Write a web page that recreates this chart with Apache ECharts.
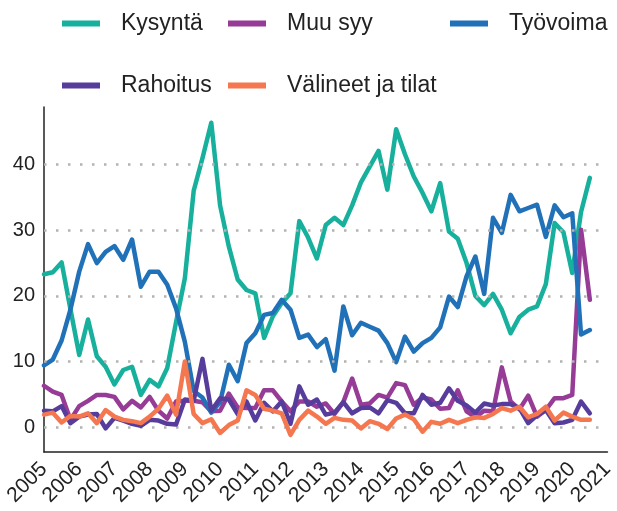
<!DOCTYPE html>
<html>
<head>
<meta charset="utf-8">
<script src="https://cdn.jsdelivr.net/npm/echarts@6/dist/echarts.min.js"></script>
<style>
html,body{margin:0;padding:0;background:#fff;}
#chart{width:617px;height:511px;}
</style>
</head>
<body>
<div id="chart"></div>
<script>
// Tick labels (years) — one category per quarter, 2005Q1 .. 2021Q1
const years = ['2005','2006','2007','2008','2009','2010','2011','2012','2013','2014','2015','2016','2017','2018','2019','2020','2021'];
const quarters = [];
years.forEach(y => { ['Q1','Q2','Q3','Q4'].forEach(q => quarters.push(y + ' ' + q)); });
quarters.length = 65; // ends at 2021 Q1

const seriesNames = ['Kysyntä', 'Muu syy', 'Työvoima', 'Rahoitus', 'Välineet ja tilat'];

const kysynta = [23.3,23.6,25.1,18.0,11.0,16.4,10.8,9.2,6.5,8.7,
  9.2,4.9,7.2,6.2,9.0,16.0,22.7,36.0,41.0,46.4,
  33.8,27.5,22.5,20.9,20.4,13.6,16.9,18.9,20.4,31.4,
  28.9,25.7,30.8,31.9,30.8,33.8,37.3,39.7,42.1,36.2,
  45.4,41.6,38.2,35.7,32.9,37.2,29.8,28.7,25.0,20.0,
  18.6,20.3,17.9,14.3,16.8,17.9,18.4,21.8,31.1,29.7,
  23.5,32.8,38.0];

const muuSyy = [6.3,5.4,4.9,1.1,3.2,4.0,4.9,4.9,4.6,2.7,
  4.0,3.0,4.6,2.5,1.3,3.9,4.0,4.0,3.8,2.4,
  2.5,5.1,3.0,2.9,2.9,5.6,5.6,3.9,2.4,3.9,
  3.9,3.1,3.6,2.0,3.8,7.4,3.4,3.6,4.9,4.5,
  6.7,6.4,3.4,4.5,4.2,2.8,2.9,5.6,2.4,1.5,
  2.5,2.4,9.1,3.9,2.7,4.8,1.6,2.6,4.4,4.4,
  4.9,30.1,19.4];

const tyovoima = [9.4,10.3,13.2,17.9,23.7,27.9,25.0,26.7,27.6,25.5,
  28.6,21.4,23.7,23.7,21.7,18.1,13.0,5.5,4.5,2.2,
  3.8,9.5,7.0,12.8,14.3,17.1,17.4,19.4,17.9,13.6,
  14.1,12.2,13.4,8.6,18.4,14.0,15.9,15.3,14.7,12.8,
  9.9,13.8,11.5,12.8,13.6,15.2,19.9,18.3,23.0,26.0,
  20.3,31.9,29.6,35.4,32.9,33.4,33.9,29.0,33.8,32.0,
  32.6,14.1,14.8];

const rahoitus = [2.5,2.4,3.2,0.6,1.6,1.9,2.0,-0.2,1.4,1.0,
  0.5,0.2,1.1,1.0,0.5,0.4,4.2,4.0,10.4,2.5,
  4.4,4.2,2.0,3.9,1.0,3.7,2.4,3.9,0.5,6.2,
  3.4,4.2,1.9,2.2,3.8,2.1,2.9,3.0,2.1,4.1,
  3.7,2.1,2.1,4.9,3.4,3.7,5.9,4.0,3.3,2.2,
  3.6,3.3,3.5,3.5,2.9,0.6,1.8,2.6,0.6,0.7,
  1.1,3.9,2.1];

const valineet = [1.9,2.2,0.7,1.7,1.6,2.1,0.6,2.6,1.6,1.1,
  0.9,0.6,1.6,2.8,4.8,1.9,10.0,2.0,0.6,1.2,
  -0.9,0.3,1.0,5.6,4.9,2.8,2.5,2.1,-1.2,1.1,
  2.5,1.6,0.5,1.4,1.1,1.0,-0.2,0.9,0.5,-0.3,
  1.3,1.9,1.2,-0.7,0.8,0.5,1.1,0.6,1.1,1.5,
  1.4,2.0,2.9,2.5,3.1,1.5,2.0,3.1,1.0,2.2,
  1.6,1.1,1.1];

const yTicks = [0, 10, 20, 30, 40];

const colors = ['#17b09c', '#963b96', '#2171b8', '#573d9b', '#f4774f'];
const values = [kysynta, muuSyy, tyovoima, rahoitus, valineet];

const FONT = 'Liberation Sans, Arial, Helvetica, sans-serif';

const legendPos = [
  {left: 62, top: 12},
  {left: 228, top: 12},
  {left: 450, top: 12},
  {left: 62, top: 74},
  {left: 228, top: 74}
];

const chart = echarts.init(document.getElementById('chart'), null, {renderer: 'canvas'});

const series = [{
  type: 'line',
  name: '_grid',
  data: [],
  silent: true,
  z: 1,
  markLine: {
    silent: true,
    symbol: ['none', 'none'],
    label: {show: false},
    animation: false,
    lineStyle: {color: '#b3b3b3', width: 2.5, type: [2.5, 9.5], cap: 'butt'},
    data: yTicks.map(v => ({yAxis: v}))
  }
}];
seriesNames.forEach((n, k) => {
  series.push({
    type: 'line',
    name: n,
    data: values[k],
    showSymbol: false,
    symbol: 'none',
    z: 2 + k,
    color: colors[k],
    lineStyle: {width: 4.5, color: colors[k], cap: 'round', join: 'round'},
    emphasis: {disabled: true}
  });
});

chart.setOption({
  animation: false,
  backgroundColor: '#ffffff',
  color: colors,
  legend: seriesNames.map((n, k) => ({
    data: [n],
    left: legendPos[k].left,
    top: legendPos[k].top,
    padding: 0,
    icon: 'rect',
    itemWidth: 38,
    itemHeight: 6,
    selectedMode: false,
    textStyle: {fontFamily: FONT, fontSize: 23, color: '#222', padding: [0, 0, 0, 16]}
  })),
  grid: {left: 44, right: 8, top: 107, bottom: 59, containLabel: false},
  xAxis: {
    type: 'category',
    data: quarters,
    boundaryGap: false,
    axisLine: {onZero: false, lineStyle: {color: '#222', width: 1.5}},
    axisTick: {show: false},
    splitLine: {show: false},
    axisLabel: {
      interval: 3,
      rotate: 45,
      margin: 14,
      fontFamily: FONT,
      fontSize: 21,
      color: '#222',
      formatter: v => v.slice(0, 4)
    }
  },
  yAxis: {
    type: 'value',
    min: -3.8,
    max: 48.8,
    splitNumber: 5,
    axisLine: {show: true, lineStyle: {color: '#222', width: 1.5}},
    axisTick: {show: false},
    splitLine: {show: false},
    axisLabel: {
      margin: 9,
      fontFamily: FONT,
      fontSize: 20,
      color: '#222',
      formatter: v => (yTicks.indexOf(Math.round(v * 1000) / 1000) >= 0 ? String(v) : '')
    }
  },
  series: series
});
</script>
</body>
</html>
